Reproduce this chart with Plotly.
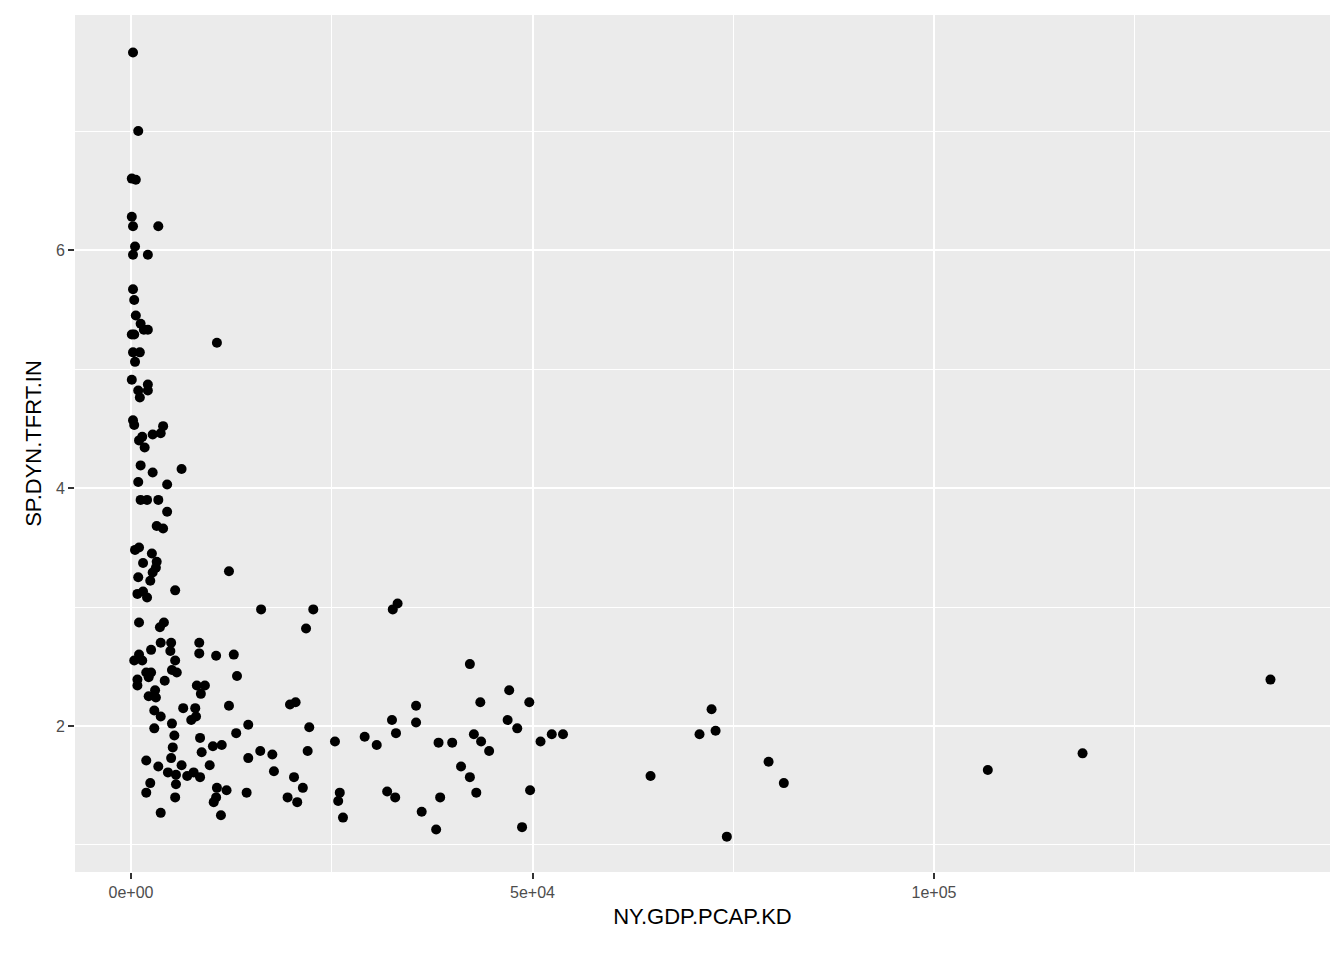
import plotly.graph_objects as go

gdp = [141900,118500,106700,81300,79400,74200,72800,72300,70800,64700,53800,52400,51000,49600,49700,48700,48100,47100,46900,44600,43500,43600,43000,42700,42200,42200,41100,40000,38300,38500,38000,36200,35500,35500,33200,32600,33000,32900,32500,31900,30600,29100,26400,26000,25800,25400,22700,21800,22200,22000,21400,20700,20500,20300,19800,19500,17800,17600,16200,16100,14600,14600,14400,13200,12800,13100,12200,12200,11900,11300,11200,10700,10600,10700,10200,10300,10600,9800,9200,8800,8700,8500,8600,8600,8500,8200,8100,8000,7800,7500,7000,6500,6300,6300,5700,5500,5500,5600,5500,5400,5600,5100,5100,5200,5000,5000,4900,4600,4500,4500,4200,4100,4000,4000,3700,3700,3600,3700,3700,3400,3400,3400,3200,3200,3100,3100,3000,2900,2900,2700,2700,2700,2600,2500,2500,2400,2400,2200,2200,2100,2100,2100,2100,2000,2000,1900,1900,1900,1700,1600,1500,1500,1400,1400,1200,1200,1200,1100,1100,1000,1000,1000,1000,900,900,900,900,800,800,800,600,600,500,500,500,400,400,400,400,250,250,250,250,100,100,100,100,250,250]
tfr = [2.39,1.77,1.63,1.52,1.70,1.07,1.96,2.14,1.93,1.58,1.93,1.93,1.87,2.20,1.46,1.15,1.98,2.30,2.05,1.79,2.20,1.87,1.44,1.93,2.52,1.57,1.66,1.86,1.86,1.40,1.13,1.28,2.17,2.03,3.03,2.98,1.94,1.40,2.05,1.45,1.84,1.91,1.23,1.44,1.37,1.87,2.98,2.82,1.99,1.79,1.48,1.36,2.20,1.57,2.18,1.40,1.62,1.76,2.98,1.79,2.01,1.73,1.44,2.42,2.60,1.94,3.30,2.17,1.46,1.84,1.25,5.22,2.59,1.48,1.83,1.36,1.40,1.67,2.34,1.78,2.27,2.70,1.90,1.57,2.61,2.34,2.08,2.15,1.61,2.05,1.58,2.15,4.16,1.67,2.45,2.55,3.14,1.59,1.40,1.92,1.51,2.47,2.02,1.82,2.70,1.73,2.63,1.61,3.80,4.03,2.38,2.87,3.66,4.52,4.46,2.70,2.83,2.08,1.27,1.66,6.20,3.90,3.68,3.38,3.33,2.24,2.30,1.98,2.13,3.29,4.45,4.13,3.45,2.45,2.64,3.22,1.52,2.25,2.41,5.33,4.87,4.82,5.96,3.90,3.08,2.45,1.71,1.44,4.34,5.33,3.37,3.13,2.55,4.43,4.19,3.90,5.38,4.76,5.14,3.50,2.87,2.60,4.40,7.00,4.82,4.05,3.25,2.34,3.11,2.39,5.45,6.59,3.48,6.03,5.06,5.29,5.58,4.53,2.55,7.66,6.20,5.96,5.67,6.60,6.28,4.91,5.29,4.57,5.14]

x_ticks = [0, 50000, 100000]
x_labels = ["0e+00", "5e+04", "1e+05"]
y_ticks = [2, 4, 6]

font = "Liberation Sans, Arial"
fig = go.Figure(go.Scatter(x=gdp, y=tfr, mode="markers",
                           marker=dict(color="black", size=10, line=dict(width=0))))
axis_common = dict(showgrid=True, gridcolor="white", gridwidth=2.2, zeroline=False,
                   ticks="outside", ticklen=6, tickwidth=2, tickcolor="#333333",
                   tickfont=dict(family=font, size=16, color="#4D4D4D"),
                   showline=False)
fig.update_xaxes(**axis_common, range=[-6974, 149315], tickvals=x_ticks, ticktext=x_labels,
                 minor=dict(tickvals=[25000, 75000, 125000], showgrid=True, gridcolor="white", gridwidth=1.1, ticks=""),
                 title=dict(text="NY.GDP.PCAP.KD", font=dict(family=font, size=22, color="black"), standoff=8))
fig.update_yaxes(**axis_common, range=[0.773, 7.975], tickvals=y_ticks,
                 minor=dict(tickvals=[1, 3, 5, 7], showgrid=True, gridcolor="white", gridwidth=1.1, ticks=""),
                 title=dict(text="SP.DYN.TFRT.IN", font=dict(family=font, size=22, color="black"), standoff=8))
fig.update_layout(width=1328, height=944, paper_bgcolor="white", plot_bgcolor="#EBEBEB",
                  margin=dict(l=67, r=6, t=7, b=80), showlegend=False)
fig.write_html("out.html")
